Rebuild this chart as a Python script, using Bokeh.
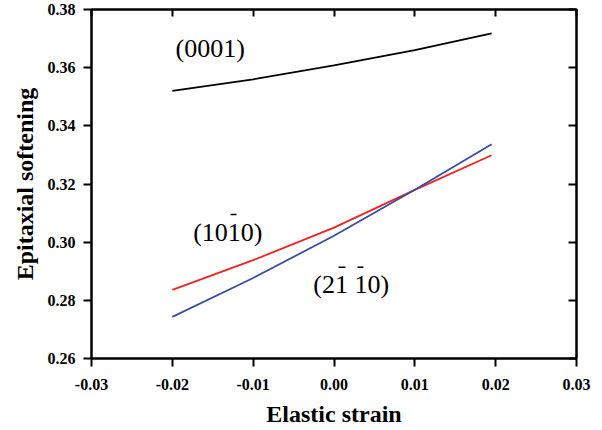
from bokeh.plotting import figure
from bokeh.models import Range1d, LinearAxis, FixedTicker, PrintfTickFormatter, CustomJSTickFormatter
from bokeh.core.properties import value
from bokeh.embed import file_html
from bokeh.resources import INLINE

# ---- data ----
strain = [-0.02, -0.01, 0.0, 0.01, 0.0195]
soft_0001 = [0.3520, 0.3560, 0.3608, 0.3660, 0.3718]
soft_1010 = [0.2836, 0.2938, 0.3050, 0.3180, 0.3299]
soft_2110 = [0.2743, 0.2877, 0.3022, 0.3180, 0.3337]

x_ticks = [-0.03, -0.02, -0.01, 0.0, 0.01, 0.02, 0.03]
y_ticks = [0.26, 0.28, 0.30, 0.32, 0.34, 0.36, 0.38]

label_text = ["(0001)", "(1010)", "(21 10)"]
label_x = [-0.0196, -0.01742, -0.00257]
label_y = [0.3667, 0.3034, 0.2856]

# overbars (annotation positions)
bar_x0 = [-0.01280, 0.00056, 0.00291]
bar_x1 = [-0.01206, 0.00142, 0.00365]
bar_y = [0.3095, 0.2914, 0.2914]

FONT = "Liberation Serif"

p = figure(width=602, height=430, x_range=Range1d(-0.03, 0.03), y_range=Range1d(0.26, 0.38),
           output_backend="svg", toolbar_location=None,
           min_border_left=91, min_border_right=26, min_border_top=9, min_border_bottom=72)
p.xgrid.grid_line_color = None
p.ygrid.grid_line_color = None
p.outline_line_color = "black"
p.outline_line_width = 2
p.background_fill_color = "white"
p.border_fill_color = "white"

for ax in (p.xaxis[0], p.yaxis[0]):
    ax.axis_line_width = 2
    ax.major_tick_line_width = 2
    ax.major_tick_out = 8
    ax.major_tick_in = 0
    ax.minor_tick_line_color = None
    ax.major_label_text_font = FONT
    ax.major_label_text_font_style = "bold"
    ax.major_label_text_font_size = "16px"
    ax.major_label_text_color = "black"
    ax.axis_label_text_font = FONT
    ax.axis_label_text_font_style = "bold"
    ax.axis_label_text_font_size = "24px"
    ax.axis_label_text_color = "black"
    ax.formatter = PrintfTickFormatter(format="%.2f")

p.xaxis[0].ticker = FixedTicker(ticks=x_ticks)
p.yaxis[0].ticker = FixedTicker(ticks=y_ticks)
p.xaxis[0].axis_label = "Elastic strain"
p.yaxis[0].axis_label = "Epitaxial softening"
p.xaxis[0].major_label_standoff = 12
p.yaxis[0].major_label_standoff = 8
p.xaxis[0].axis_label_standoff = 8
p.yaxis[0].axis_label_standoff = 7

blank = CustomJSTickFormatter(code="return '';")
top = LinearAxis(ticker=FixedTicker(ticks=x_ticks), formatter=blank,
                 major_tick_in=7, major_tick_out=0, minor_tick_line_color=None,
                 axis_line_width=2, major_tick_line_width=2, major_label_standoff=0)
right = LinearAxis(ticker=FixedTicker(ticks=y_ticks), formatter=blank,
                   major_tick_in=8, major_tick_out=0, minor_tick_line_color=None,
                   axis_line_width=2, major_tick_line_width=2, major_label_standoff=0)
p.add_layout(top, "above")
p.add_layout(right, "right")

p.line(strain, soft_0001, line_color="black", line_width=1.8)
p.line(strain, soft_1010, line_color="#f52020", line_width=1.8)
p.line(strain, soft_2110, line_color="#3a4ca6", line_width=1.8)

p.text(x=label_x, y=label_y, text=label_text, text_font=value(FONT), text_font_size="26px",
       text_baseline="middle", text_align="left", text_color="black")
p.segment(x0=bar_x0, y0=bar_y, x1=bar_x1, y1=bar_y, line_color="black", line_width=1.5)

open("out.html", "w").write(file_html(p, INLINE))
